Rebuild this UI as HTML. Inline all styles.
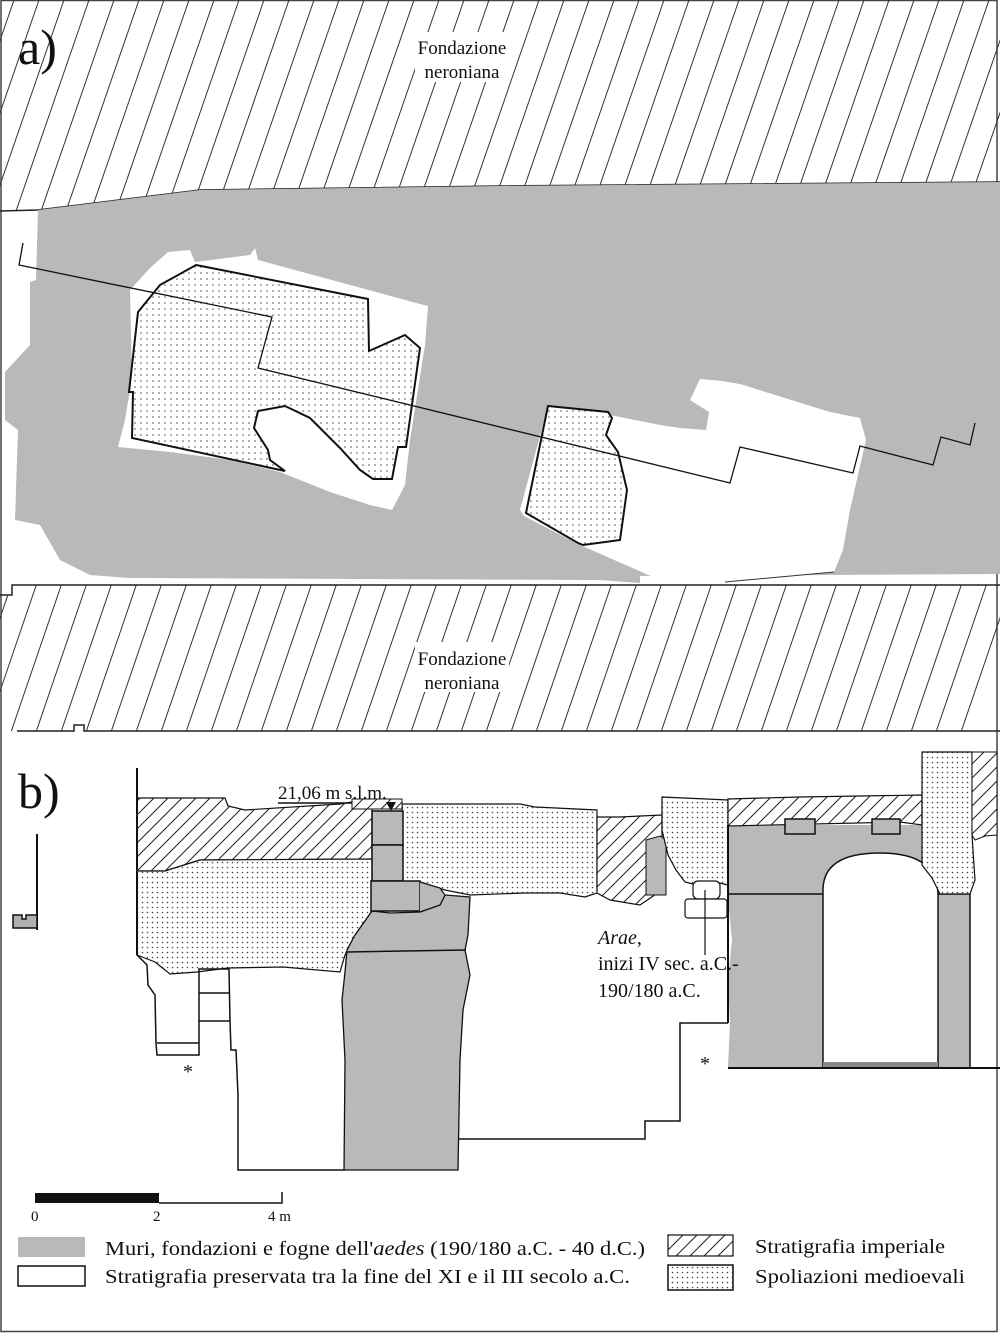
<!DOCTYPE html>
<html><head><meta charset="utf-8"><style>
html,body{margin:0;padding:0;background:#fff}
svg{display:block}
text{font-family:"Liberation Serif",serif;fill:#111}
</style></head><body>
<svg width="1000" height="1333" viewBox="0 0 1000 1333" xmlns="http://www.w3.org/2000/svg">
<defs>
<pattern id="dA" width="6" height="6" patternUnits="userSpaceOnUse"><rect width="6" height="6" fill="#fff"/><circle cx="3" cy="3" r="0.8" fill="#555"/></pattern>
<pattern id="dB" width="5" height="5" patternUnits="userSpaceOnUse"><rect width="5" height="5" fill="#fff"/><circle cx="2.5" cy="2.5" r="0.8" fill="#444"/></pattern>
<pattern id="hB" width="14" height="14" patternUnits="userSpaceOnUse"><rect width="14" height="14" fill="#fff"/><path d="M-2,16 L16,-2 M-2,2 L2,-2 M12,16 L16,12" stroke="#222" stroke-width="1"/></pattern>
<clipPath id="topband"><path d="M0,0 H1000 V182 L500,186 L200,190 L38,210 L0,211 Z"/></clipPath>
<clipPath id="botband"><path d="M12,585 H1000 V731 H0 V595 H12 Z"/></clipPath>
</defs>

<rect x="1" y="0.5" width="996" height="1331" fill="none" stroke="#444" stroke-width="1.5"/>

<g clip-path="url(#topband)">
<g stroke="#333" stroke-width="1">
<path d="M-60,214 L14,0 M-35,214 L39,0 M-10,214 L64,0 M15,214 L89,0 M40,214 L114,0 M65,214 L139,0 M90,214 L164,0 M115,214 L189,0 M140,214 L214,0 M165,214 L239,0 M190,214 L264,0 M215,214 L289,0 M240,214 L314,0 M265,214 L339,0 M290,214 L364,0 M315,214 L389,0 M340,214 L414,0 M365,214 L439,0 M390,214 L464,0 M415,214 L489,0 M440,214 L514,0 M465,214 L539,0 M490,214 L564,0 M515,214 L589,0 M540,214 L614,0 M565,214 L639,0 M590,214 L664,0 M615,214 L689,0 M640,214 L714,0 M665,214 L739,0 M690,214 L764,0 M715,214 L789,0 M740,214 L814,0 M765,214 L839,0 M790,214 L864,0 M815,214 L889,0 M840,214 L914,0 M865,214 L939,0 M890,214 L964,0 M915,214 L989,0 M940,214 L1014,0 M965,214 L1039,0 M990,214 L1064,0"/>
</g></g>
<rect x="415" y="32" width="94" height="50" fill="#fff"/>
<text x="462" y="54" font-size="19" text-anchor="middle">Fondazione</text>
<text x="462" y="78" font-size="19" text-anchor="middle">neroniana</text>
<text x="18" y="64" font-size="50">a)</text>
<path d="M0,211 L38,210 L200,190 L500,186 L1000,182" fill="none" stroke="#222" stroke-width="1.5"/>

<path d="M38,210 L200,190 L500,186 L1000,182 L1000,574 L640,576 L640,583 L600,580 L130,578 L90,575 L60,560 L40,525 L15,520 L18,430 L5,420 L5,372 L30,345 L30,282 L36,280 Z" fill="#b9b9b9"/>
<path d="M150,268 L168,252 L190,250 L195,262 L250,255 L255,248 L258,260 L420,304 L428,306 L425,345 L410,440 L405,485 L392,510 L370,505 L330,492 L300,480 L280,472 L230,460 L170,452 L118,447 L125,420 L132,378 L130,290 Z" fill="#fff"/>
<path d="M548,406 L610,415 L660,425 L680,428 L706,430 L709,412 L690,400 L700,379 L722,381 L740,384 L830,412 L860,418 L866,440 L850,510 L843,550 L834,572 L725,582 L660,580 L580,545 L524,516 L520,510 Z" fill="#fff"/>
<path d="M196,265 L368,299 L369,351 L405,335 L420,348 L406,447 L398,447 L392,479 L373,479 L360,470 L340,448 L310,418 L285,406 L258,411 L254,428 L268,450 L270,460 L285,471 L132,438 L133,392 L129,392 L138,312 L160,285 Z" fill="url(#dA)" stroke="#111" stroke-width="2"/>
<path d="M548,406 L608,412 L612,418 L606,435 L618,452 L627,490 L620,540 L583,545 L578,543 L526,513 Z" fill="url(#dA)" stroke="#111" stroke-width="2"/>
<path d="M23,243 L19,265 L272,317 L258,368 L730,483 L740,447 L853,473 L860,446 L933,465 L941,437 L970,445 L975,423" fill="none" stroke="#111" stroke-width="1.3"/>
<path d="M725,582 L834,572" stroke="#333" stroke-width="1"/>

<g clip-path="url(#botband)">
<g stroke="#333" stroke-width="1">
<path d="M-90,735 L-37,580 M-65,735 L-12,580 M-40,735 L13,580 M-15,735 L38,580 M10,735 L63,580 M35,735 L88,580 M60,735 L113,580 M85,735 L138,580 M110,735 L163,580 M135,735 L188,580 M160,735 L213,580 M185,735 L238,580 M210,735 L263,580 M235,735 L288,580 M260,735 L313,580 M285,735 L338,580 M310,735 L363,580 M335,735 L388,580 M360,735 L413,580 M385,735 L438,580 M410,735 L463,580 M435,735 L488,580 M460,735 L513,580 M485,735 L538,580 M510,735 L563,580 M535,735 L588,580 M560,735 L613,580 M585,735 L638,580 M610,735 L663,580 M635,735 L688,580 M660,735 L713,580 M685,735 L738,580 M710,735 L763,580 M735,735 L788,580 M760,735 L813,580 M785,735 L838,580 M810,735 L863,580 M835,735 L888,580 M860,735 L913,580 M885,735 L938,580 M910,735 L963,580 M935,735 L988,580 M960,735 L1013,580"/>
</g></g>
<rect x="415" y="642" width="94" height="50" fill="#fff"/>
<text x="462" y="665" font-size="19" text-anchor="middle">Fondazione</text>
<text x="462" y="689" font-size="19" text-anchor="middle">neroniana</text>
<path d="M0,595 H12 V585 H1000" fill="none" stroke="#222" stroke-width="1.5"/>
<path d="M17,731 H74 V725 H84 V731 H1000" fill="none" stroke="#222" stroke-width="1.5"/>

<text x="18" y="808" font-size="50">b)</text>
<path d="M37,834 V930" stroke="#111" stroke-width="2"/>
<path d="M13,915 H22 V919 H26 V915 H37 V928 H13 Z" fill="#b0b0b0" stroke="#111" stroke-width="1.5"/>

<path d="M137,798 L225,798 L228,806 L245,810 L340,804 L352,802 L372,800 L372,859 L200,860 L165,871 L137,871 Z" fill="url(#hB)" stroke="#111" stroke-width="1.2"/>
<path d="M137,871 L165,871 L200,860 L372,859 L372,911 L355,935 L345,955 L340,972 L283,967 L228,968 L197,972 L170,974 L155,962 L137,955 Z" fill="url(#dB)" stroke="#111" stroke-width="1.2"/>
<path d="M137,768 V955" stroke="#111" stroke-width="2"/>
<path d="M137,955 L147,965 L148,985 L155,995 L156,1043 L157,1055 L199,1055 L199,1043 L199,969 L229,969 L230,1021 L231,1050 L236,1050 L238,1095 L238,1170 L345,1170" fill="none" stroke="#111" stroke-width="1.5"/>
<path d="M157,1043 H199 M199,993 H230 M199,1021 H230" stroke="#111" stroke-width="1.5"/>
<text x="183" y="1078" font-size="20">*</text>

<path d="M402,804 L520,804 L535,807 L597,810 L597,893 L585,897 L560,893 L525,893 L470,895 L445,890 L420,882 L403,881 Z" fill="url(#dB)" stroke="#111" stroke-width="1.2"/>
<path d="M372,911 L390,913 L420,912 L440,905 L445,895 L470,897 L468,935 L465,950 L470,975 L463,1010 L460,1060 L458,1170 L344,1170 L345,1060 L342,1000 L345,972 L347,950 L355,935 Z" fill="#b9b9b9" stroke="#111" stroke-width="1.3"/>
<path d="M347,952 L466,950" stroke="#111" stroke-width="1.5"/>
<rect x="372" y="811" width="31" height="34" fill="#b9b9b9" stroke="#111" stroke-width="1.5"/>
<rect x="372" y="845" width="31" height="36" fill="#b9b9b9" stroke="#111" stroke-width="1.5"/>
<rect x="371" y="881" width="49" height="30" fill="#b9b9b9" stroke="#111" stroke-width="1.5"/>
<path d="M420,882 L440,888 L445,895 L440,905 L420,912" fill="#b9b9b9" stroke="#111" stroke-width="1.2"/>
<rect x="352" y="799" width="50" height="10" fill="url(#hB)" stroke="#111" stroke-width="1"/>
<path d="M278,803 H352" stroke="#111" stroke-width="1.5"/>
<path d="M386,802 L396,802 L391,811 Z" fill="#111"/>
<text x="278" y="799" font-size="19">21,06 m s.l.m.</text>

<path d="M597,817 L620,817 L662,815 L662,890 L640,905 L610,900 L597,893 Z" fill="url(#hB)" stroke="#111" stroke-width="1.2"/>
<path d="M646,840 L660,836 L666,840 L666,895 L646,895 Z" fill="#b9b9b9" stroke="#111" stroke-width="1"/>
<path d="M662,797 L728,800 L728,885 L715,882 L693,884 L685,882 L676,870 L668,855 L662,830 Z" fill="url(#dB)" stroke="#111" stroke-width="1.2"/>
<rect x="693" y="881" width="27" height="18" rx="5" fill="#fff" stroke="#111" stroke-width="1.2"/>
<rect x="685" y="899" width="42" height="19" rx="3" fill="#fff" stroke="#111" stroke-width="1.2"/>
<path d="M705,890 V955" stroke="#111" stroke-width="1.2"/>

<path d="M728,825 L922,825 L922,880 L940,894 L970,894 L970,1067 L728,1067 L730,1023 L728,980 L732,940 L728,900 Z" fill="#b9b9b9"/>
<path d="M823,1067 V890 Q823,853 880,853 Q938,853 938,895 V1067 Z" fill="#fff" stroke="#111" stroke-width="1.5"/>
<rect x="823" y="1062" width="115" height="6" fill="#8a8a8a"/>
<path d="M728,894 H823 M938,894 H970 M970,894 V1067" stroke="#111" stroke-width="1.5" fill="none"/>
<path d="M728,825 V1023 M728,1068 H1000" stroke="#111" stroke-width="2" fill="none"/>
<path d="M728,799 L800,797 L922,795 L922,825 L900,822 L728,826 Z" fill="url(#hB)" stroke="#111" stroke-width="1.2"/>
<path d="M785,819 H815 V834 H785 Z M872,819 H900 V834 H872 Z" fill="#b9b9b9" stroke="#111" stroke-width="1.5"/>
<path d="M922,752 L972,752 L972,835 L975,880 L970,894 L940,894 L932,878 L922,865 Z" fill="url(#dB)" stroke="#111" stroke-width="1.2"/>
<path d="M972,752 L997,752 L997,835 L985,836 L975,840 L972,835 Z" fill="url(#hB)" stroke="#111" stroke-width="1"/>
<path d="M728,1023 H680 V1121 H645 V1139 H458" fill="none" stroke="#111" stroke-width="1.5"/>
<text x="700" y="1070" font-size="20">*</text>

<text x="598" y="944" font-size="20" font-style="italic">Arae<tspan font-style="normal">,</tspan></text>
<text x="598" y="970" font-size="20">inizi IV sec. a.C.-</text>
<text x="598" y="997" font-size="20">190/180 a.C.</text>

<rect x="35" y="1193" width="124" height="10" fill="#111"/>
<path d="M159,1203 H282 V1192" fill="none" stroke="#111" stroke-width="1.5"/>
<text x="31" y="1221" font-size="15">0</text>
<text x="153" y="1221" font-size="15">2</text>
<text x="268" y="1221" font-size="15">4 m</text>

<rect x="18" y="1237" width="67" height="20" fill="#b9b9b9"/>
<text x="105" y="1255" font-size="20" textLength="540" lengthAdjust="spacingAndGlyphs">Muri, fondazioni e fogne dell'<tspan font-style="italic">aedes</tspan> (190/180 a.C. - 40 d.C.)</text>
<rect x="18" y="1266" width="67" height="20" fill="#fff" stroke="#111" stroke-width="1.5"/>
<text x="105" y="1283" font-size="20" textLength="525" lengthAdjust="spacingAndGlyphs">Stratigrafia preservata tra la fine del XI e il III secolo a.C.</text>
<rect x="668" y="1235" width="65" height="21" fill="url(#hB)" stroke="#111" stroke-width="1.2"/>
<text x="755" y="1253" font-size="20" textLength="190" lengthAdjust="spacingAndGlyphs">Stratigrafia imperiale</text>
<rect x="668" y="1265" width="65" height="25" fill="url(#dB)" stroke="#111" stroke-width="1.5"/>
<text x="755" y="1283" font-size="20" textLength="210" lengthAdjust="spacingAndGlyphs">Spoliazioni medioevali</text>
</svg>
</body></html>
